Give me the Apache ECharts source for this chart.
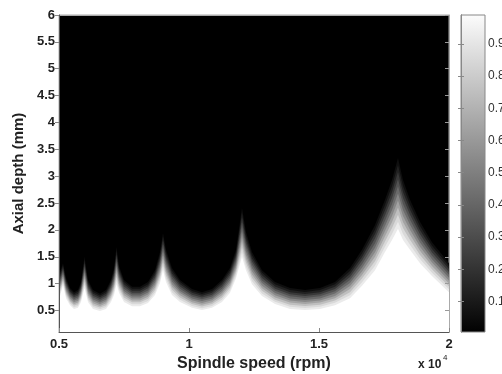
<!DOCTYPE html>
<html>
<head>
<meta charset="utf-8">
<script src="https://cdn.jsdelivr.net/npm/echarts@6/dist/echarts.min.js"></script>
<style>
  html, body { margin: 0; padding: 0; background: #fff; }
  #chart { width: 502px; height: 374px; }
</style>
</head>
<body>
<div id="chart"></div>
<script>
// spindle speed (rpm) sample points along the lobes
const speeds = [5000, 5154, 5269, 5423, 5577, 5731, 5846, 5981, 6115, 6308, 6577, 6808, 7000, 7115, 7212, 7308, 7500, 7808, 8115, 8423, 8692, 8885, 9000, 9115, 9346, 9654, 10115, 10500, 10885, 11269, 11577, 11808, 12038, 12192, 12423, 12808, 13308, 13885, 14462, 15038, 15615, 16192, 16654, 17154, 17538, 17808, 18038, 18231, 18500, 18885, 19346, 20000];
// depth where the map turns fully dark (mm)
const upperDepth = [1.16, 1.38, 1.11, 0.92, 0.84, 0.88, 1.03, 1.50, 1.07, 0.88, 0.81, 0.88, 1.07, 1.29, 1.68, 1.33, 1.07, 0.94, 0.94, 1.03, 1.25, 1.59, 1.94, 1.63, 1.29, 1.07, 0.90, 0.84, 0.90, 1.07, 1.29, 1.63, 2.41, 1.96, 1.59, 1.25, 1.03, 0.92, 0.88, 0.92, 1.03, 1.29, 1.63, 2.09, 2.56, 2.93, 3.34, 2.93, 2.56, 2.15, 1.77, 1.38];
// depth below which the map is fully white (mm)
const lowerDepth = [0.70, 0.97, 0.73, 0.60, 0.53, 0.55, 0.66, 0.92, 0.66, 0.53, 0.49, 0.53, 0.66, 0.79, 0.99, 0.83, 0.66, 0.58, 0.58, 0.64, 0.79, 1.01, 1.25, 1.03, 0.79, 0.66, 0.55, 0.51, 0.55, 0.66, 0.83, 1.10, 1.50, 1.25, 0.99, 0.77, 0.62, 0.53, 0.51, 0.53, 0.60, 0.73, 0.96, 1.25, 1.59, 1.81, 2.02, 1.81, 1.63, 1.38, 1.14, 0.84];
// gray values of the transition band, from the white side up to the dark side
const bandLevels = [0.92, 0.85, 0.75, 0.64, 0.53, 0.42, 0.32, 0.22, 0.13, 0.06];

const yTicks = [0.5, 1, 1.5, 2, 2.5, 3, 3.5, 4, 4.5, 5, 5.5, 6];
const barTicks = [0.1, 0.2, 0.3, 0.4, 0.5, 0.6, 0.7, 0.8, 0.9];

const gray = v => {
    const c = Math.round(v * 255);
    return 'rgb(' + c + ',' + c + ',' + c + ')';
};

const areaSeries = (data, color) => ({
    type: 'line',
    xAxisIndex: 0,
    yAxisIndex: 0,
    data: data,
    symbol: 'none',
    lineStyle: { width: 0, opacity: 0 },
    areaStyle: { color: color, opacity: 1, origin: 'start' },
    silent: true
});

// darkest band first, each area filled from the bottom so the lighter ones cover it
const series = [];
const n = bandLevels.length;
for (let k = n - 1; k >= 0; k--) {
    const f = (k + 1) / n;
    series.push(areaSeries(
        speeds.map((s, i) => [s, lowerDepth[i] + f * (upperDepth[i] - lowerDepth[i])]),
        gray(bandLevels[k])
    ));
}
series.push(areaSeries(speeds.map((s, i) => [s, lowerDepth[i]]), '#ffffff'));

const chart = echarts.init(document.getElementById('chart'));
const labelFont = { fontFamily: 'Liberation Sans, Arial, sans-serif', fontWeight: 'bold', fontSize: 13, color: '#222' };

chart.setOption({
    animation: false,
    textStyle: { fontFamily: 'Liberation Sans, Arial, sans-serif' },
    grid: [
        { left: 59, top: 15, width: 390, height: 317, show: true, backgroundColor: '#000', borderColor: '#aaa', borderWidth: 1, outerBoundsMode: 'none', containLabel: false },
        {
            left: 461, top: 15, width: 24, height: 317, show: true, borderColor: '#888', borderWidth: 1, outerBoundsMode: 'none', containLabel: false,
            backgroundColor: new echarts.graphic.LinearGradient(0, 0, 0, 1, [
                { offset: 0, color: '#fcfcfc' },
                { offset: 1, color: '#010101' }
            ])
        }
    ],
    xAxis: [
        {
            type: 'value', gridIndex: 0, min: 5000, max: 20000, interval: 5000,
            axisLine: { lineStyle: { color: '#555' } },
            axisTick: { inside: true, length: 4, lineStyle: { color: '#888' } },
            axisLabel: Object.assign({ margin: 6, formatter: v => String(v / 10000) }, labelFont),
            splitLine: { show: false },
            name: 'Spindle speed (rpm)', nameLocation: 'middle', nameGap: 21,
            nameTextStyle: { fontFamily: 'Liberation Sans, Arial, sans-serif', fontWeight: 'bold', fontSize: 16, color: '#222' },
            z: 10
        },
        {
            type: 'value', gridIndex: 0, position: 'top', min: 5000, max: 20000, interval: 5000,
            axisLine: { lineStyle: { color: '#aaa' } },
            axisTick: { show: false }, axisLabel: { show: false }, splitLine: { show: false }
        },
        { type: 'value', gridIndex: 1, show: false, min: 0, max: 1 }
    ],
    yAxis: [
        {
            type: 'value', gridIndex: 0, min: 0.1, max: 6,
            axisLine: { show: true, lineStyle: { color: '#555' } },
            axisTick: { show: true, length: 4, customValues: yTicks, lineStyle: { color: '#888' } },
            axisLabel: Object.assign({ margin: 4, customValues: yTicks }, labelFont),
            splitLine: { show: false },
            name: 'Axial depth (mm)', nameLocation: 'middle', nameGap: 28,
            nameTextStyle: { fontFamily: 'Liberation Sans, Arial, sans-serif', fontWeight: 'bold', fontSize: 15, color: '#222' },
            z: 10
        },
        {
            type: 'value', gridIndex: 0, position: 'right', min: 0.1, max: 6,
            axisLine: { show: true, lineStyle: { color: '#aaa' } },
            axisTick: { show: true, inside: true, length: 4, customValues: yTicks, lineStyle: { color: '#999' } },
            axisLabel: { show: false }, splitLine: { show: false }, z: 10
        },
        {
            type: 'value', gridIndex: 1, position: 'right', min: 0.005, max: 0.99,
            axisLine: { show: true, lineStyle: { color: '#888' } },
            axisTick: { show: true, inside: true, length: 3, customValues: barTicks, lineStyle: { color: '#888' } },
            axisLabel: { margin: 3, customValues: barTicks, fontSize: 12, color: '#333', fontFamily: 'Liberation Sans, Arial, sans-serif' },
            splitLine: { show: false }
        },
        {
            type: 'value', gridIndex: 1, position: 'left', min: 0.005, max: 0.99,
            axisLine: { show: true, lineStyle: { color: '#888' } },
            axisTick: { show: true, inside: true, length: 3, customValues: barTicks, lineStyle: { color: '#888' } },
            axisLabel: { show: false }, splitLine: { show: false }
        }
    ],
    graphic: [
        {
            type: 'text', left: 418, top: 359,
            style: { text: 'x 10', font: 'bold 12px "Liberation Sans", Arial, sans-serif', fill: '#222' }
        },
        {
            type: 'text', left: 443, top: 354,
            style: { text: '4', font: '8px "Liberation Sans", Arial, sans-serif', fill: '#222' }
        }
    ],
    series: series
});
</script>
</body>
</html>
